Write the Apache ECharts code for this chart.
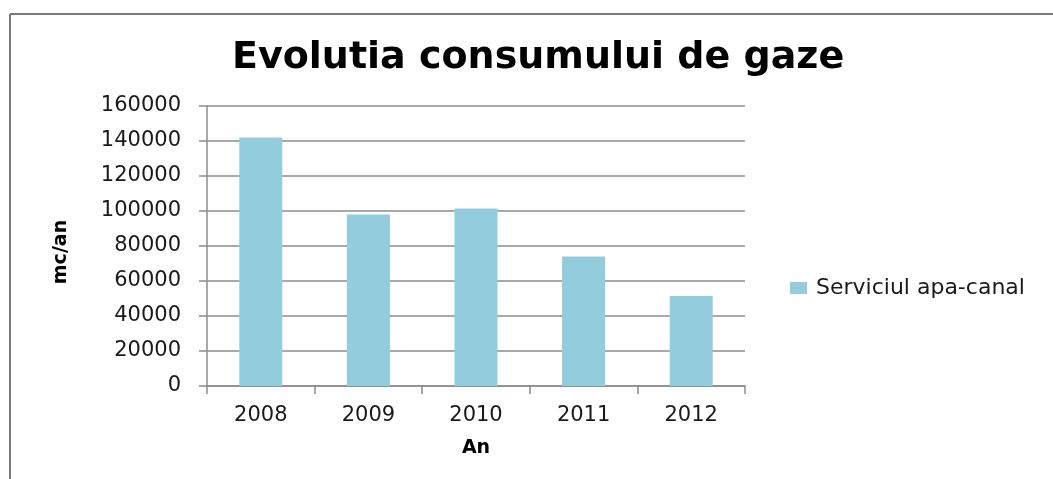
<!DOCTYPE html>
<html>
<head>
<meta charset="utf-8">
<title>Evolutia consumului de gaze</title>
<script src="https://cdn.jsdelivr.net/npm/echarts@6/dist/echarts.min.js"></script>
<style>
  html, body { margin: 0; padding: 0; background: #ffffff; }
  #chart { width: 1053px; height: 479px; }
</style>
</head>
<body>
<div id="chart"></div>
<script>
// Annual gas consumption (mc/an) for the water & sewage service
const years = ['2008', '2009', '2010', '2011', '2012'];
const consumption = [142000, 98000, 101500, 74000, 51500];
const seriesName = 'Serviciul apa-canal';
const yTicks = { min: 0, max: 160000, step: 20000 };

const FONT = '"DejaVu Sans", "Noto Sans", sans-serif';
const GRID_COLOR = '#8c8c8c';

const chart = echarts.init(document.getElementById('chart'), null, { renderer: 'canvas' });

chart.setOption({
  animation: false,
  backgroundColor: '#ffffff',
  textStyle: { fontFamily: FONT },
  title: {
    text: 'Evolutia consumului de gaze',
    left: 227,
    top: 34,
    textStyle: { fontFamily: FONT, fontWeight: 'bold', fontSize: 38, color: '#000000' }
  },
  legend: {
    data: [seriesName],
    left: 785,
    top: 272,
    orient: 'vertical',
    icon: 'rect',
    itemWidth: 17,
    itemHeight: 12,
    itemGap: 8,
    textStyle: { fontFamily: FONT, fontSize: 22, color: '#1a1a1a', padding: [0, 0, 0, 4] }
  },
  grid: { left: 207, right: 308, top: 106, bottom: 93, containLabel: false },
  xAxis: {
    type: 'category',
    data: years,
    name: 'An',
    nameLocation: 'middle',
    nameGap: 53,
    nameTextStyle: { fontFamily: FONT, fontWeight: 'bold', fontSize: 19, color: '#000000' },
    axisLine: { show: true, lineStyle: { color: GRID_COLOR, width: 1.5 } },
    axisTick: { show: true, alignWithLabel: false, length: 8, lineStyle: { color: GRID_COLOR, width: 1.5 } },
    axisLabel: { fontFamily: FONT, fontSize: 21, color: '#1a1a1a', margin: 19 }
  },
  yAxis: {
    type: 'value',
    min: yTicks.min,
    max: yTicks.max,
    interval: yTicks.step,
    name: 'mc/an',
    nameLocation: 'middle',
    nameRotate: 90,
    nameGap: 136,
    nameTextStyle: { fontFamily: FONT, fontWeight: 'bold', fontSize: 19, color: '#000000', padding: [0, 12, 0, 0] },
    axisLine: { show: true, lineStyle: { color: GRID_COLOR, width: 1.5 } },
    axisTick: { show: true, length: 8, lineStyle: { color: GRID_COLOR, width: 1.5 } },
    axisLabel: {
      fontFamily: FONT, fontSize: 21, color: '#1a1a1a', margin: 26,
      formatter: function (v) { return String(v); }
    },
    splitLine: { show: true, lineStyle: { color: GRID_COLOR, width: 1.5 } }
  },
  series: [{
    name: seriesName,
    type: 'bar',
    data: consumption,
    barWidth: '40%',
    itemStyle: { color: '#93cddd' }
  }],
  graphic: [
    // chart frame: top and left edges
    { type: 'line', shape: { x1: 10, y1: 14, x2: 1053, y2: 14 }, style: { stroke: '#7a7a7a', lineWidth: 2 } },
    { type: 'line', shape: { x1: 10, y1: 14, x2: 10, y2: 479 }, style: { stroke: '#7a7a7a', lineWidth: 2 } }
  ]
});
</script>
</body>
</html>
